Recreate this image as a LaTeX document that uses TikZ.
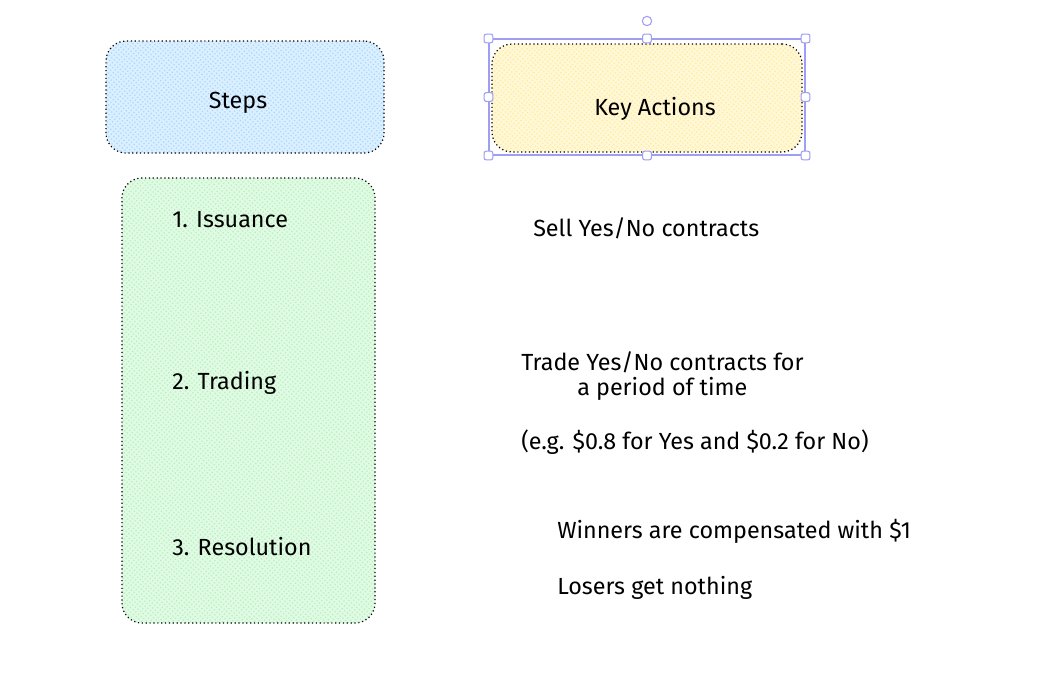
\documentclass[tikz,border=0pt]{standalone}
\usepackage{fontspec}
\setmainfont{Fira Sans}
\usetikzlibrary{patterns.meta}
\definecolor{stepblue}{HTML}{A5D8FF}
\definecolor{keyyellow}{HTML}{FFEC99}
\definecolor{stepgreen}{HTML}{B2F2BB}
\definecolor{selpurple}{HTML}{9E9EF2}
\tikzset{
  box/.style={rectangle, rounded corners=15pt, draw=black, dotted, line width=0.9pt,
    preaction={fill=#1!40}, pattern={Lines[angle=50, distance=2.6pt, line width=0.9pt]},
    pattern color=#1},
  txt/.style={anchor=west, inner sep=0pt, font=\fontsize{17.5}{21}\selectfont},
  handle/.style={rectangle, rounded corners=1.5pt, draw=selpurple, fill=white,
    line width=0.8pt, minimum size=6.5pt, inner sep=0pt}
}

\begin{document}
\begin{tikzpicture}[x=0.75pt, y=-0.75pt]
        \useasboundingbox (0,0) rectangle (1045,682);
        % header boxes
        \node[box=stepblue, minimum width=208.5pt, minimum height=84pt] (steps) at (245,97) {};
        \node[txt, anchor=center] (stepslbl) at (238,103) {Steps};
        \node[box=keyyellow, minimum width=232.5pt, minimum height=81pt] (keys) at (647,98) {};
        \node[txt, anchor=center] (keyslbl) at (655,109) {Key Actions};
        % selection frame
        \node[draw=selpurple, line width=0.8pt, minimum width=237pt, minimum height=87pt,
          inner sep=0pt] (sel) at (647,97) {};
        \foreach \a in {north west, north, north east, west, east, south west, south, south east}
          \node[handle] at (sel.\a) {};
        \node[circle, draw=selpurple, fill=white, line width=0.8pt, minimum size=7pt,
          inner sep=0pt] (rot) at (647,21) {};
        % steps column
        \node[box=stepgreen, minimum width=189.75pt, minimum height=333.75pt] (col) at (248.5,400.5) {};
        \node[txt] (iss) at (172,220) {1. Issuance};
        \node[txt] (trd) at (172,383) {2. Trading};
        \node[txt] (res) at (172,547) {3. Resolution};
        % key actions
        \node[txt] (sell) at (533,228) {Sell Yes/No contracts};
        \node[txt] (tradea) at (521,362) {Trade Yes/No contracts for};
        \node[txt] (tradeb) at (577,389) {a period of time};
        \node[txt] (eg) at (521,442) {(e.g. \$0.8 for Yes and \$0.2 for No)};
        \node[txt] (win) at (557,531) {Winners are compensated with \$1};
        \node[txt] (lose) at (557,588) {Losers get nothing};
\end{tikzpicture}
\end{document}
